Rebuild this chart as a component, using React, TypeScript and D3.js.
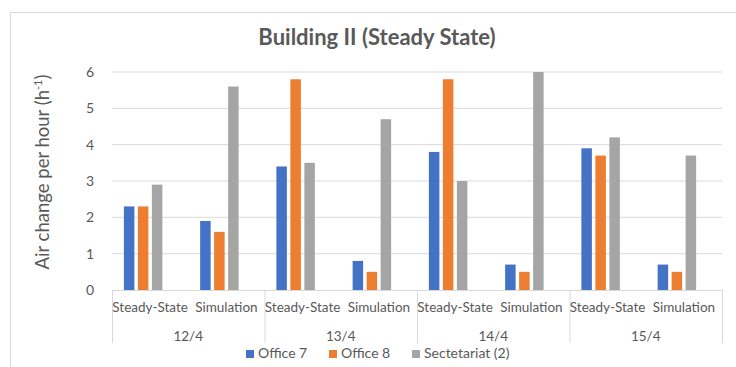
import React from "react";
import * as d3 from "d3";

const dates = ["12/4", "13/4", "14/4", "15/4"];
const cases = ["Steady-State", "Simulation"];
const series = ["Office 7", "Office 8", "Sectetariat (2)"];
const office7 = [2.3, 1.9, 3.4, 0.8, 3.8, 0.7, 3.9, 0.7];
const office8 = [2.3, 1.6, 5.8, 0.5, 5.8, 0.5, 3.7, 0.5];
const secretariat = [2.9, 5.6, 3.5, 4.7, 3.0, 6.0, 4.2, 3.7];
const yTicks = [0, 1, 2, 3, 4, 5, 6];
const colors = ["#4472C4", "#ED7D31", "#A5A5A5"];

const W = 736;
const H = 367;
const FONT = "Lato, 'Open Sans', sans-serif";

export default function App() {
  const values = [office7, office8, secretariat];
  const x0 = d3.scaleBand<string>().domain(dates).range([112, 722]).padding(0);
  const x1 = d3.scaleBand<string>().domain(cases).range([0, x0.bandwidth()]).padding(0);
  // Excel reserves a fourth (empty) slot in each cluster
  const x2 = d3
    .scaleBand<string>()
    .domain([...series, "__empty"])
    .range([0, x1.bandwidth()])
    .paddingInner(0.25)
    .paddingOuter(0.85);
  const y = d3.scaleLinear().domain([0, 6]).range([290, 72]);

  const bars: JSX.Element[] = [];
  dates.forEach((d, di) => {
    cases.forEach((c, ci) => {
      series.forEach((s, si) => {
        const v = values[si][di * 2 + ci];
        const bx = (x0(d) ?? 0) + (x1(c) ?? 0) + (x2(s) ?? 0);
        bars.push(
          <rect
            key={`${d}-${c}-${s}`}
            x={bx}
            y={y(v)}
            width={x2.bandwidth()}
            height={y(0) - y(v)}
            fill={colors[si]}
          />
        );
      });
    });
  });

  const legendItems = [
    { sx: 246, tx: 258 },
    { sx: 329, tx: 341 },
    { sx: 412, tx: 424 },
  ];

  return (
    <svg
      width={W}
      height={H}
      style={{ position: "absolute", left: 0, top: 0, background: "#fff" }}
      fontFamily={FONT}
    >
      <rect x={10.5} y={12.5} width={800} height={400} fill="#fff" stroke="#d9d9d9" />
      <text
        x={377}
        y={45}
        textAnchor="middle"
        fontSize={22}
        fontWeight="bold"
        fill="#595959"
      >
        Building II (Steady State)
      </text>
      {yTicks.map((t) => (
        <g key={t}>
          {t > 0 && (
            <line x1={112} x2={722} y1={y(t)} y2={y(t)} stroke="#d9d9d9" strokeWidth={1} />
          )}
          <text x={94} y={y(t)} dy="0.35em" textAnchor="end" fontSize={14} fill="#595959">
            {t}
          </text>
        </g>
      ))}
      <text
        transform={`translate(49,172) rotate(-90)`}
        textAnchor="middle"
        fontSize={18.5}
        fill="#595959"
      >
        Air change per hour  (h
        <tspan dy={-7} fontSize={11}>-1</tspan>
        <tspan dy={7}>)</tspan>
      </text>
      {bars}
      <line x1={112} x2={722} y1={290.5} y2={290.5} stroke="#d9d9d9" />
      {[...dates.map((d) => x0(d) ?? 0), 722].map((px, i) => (
        <line key={i} x1={px + 0.5} x2={px + 0.5} y1={290} y2={343} stroke="#d9d9d9" />
      ))}
      {dates.map((d) =>
        cases.map((c) => (
          <text
            key={d + c}
            x={(x0(d) ?? 0) + (x1(c) ?? 0) + x1.bandwidth() / 2}
            y={312}
            textAnchor="middle"
            fontSize={13.5}
            fill="#595959"
          >
            {c}
          </text>
        ))
      )}
      {dates.map((d) => (
        <text
          key={d}
          x={(x0(d) ?? 0) + x0.bandwidth() / 2}
          y={341}
          textAnchor="middle"
          fontSize={13.5}
          fill="#595959"
        >
          {d}
        </text>
      ))}
      {series.map((s, i) => (
        <g key={s}>
          <rect x={legendItems[i].sx} y={350} width={8} height={8} fill={colors[i]} />
          <text x={legendItems[i].tx} y={358} fontSize={14} fill="#595959">
            {s}
          </text>
        </g>
      ))}
    </svg>
  );
}
